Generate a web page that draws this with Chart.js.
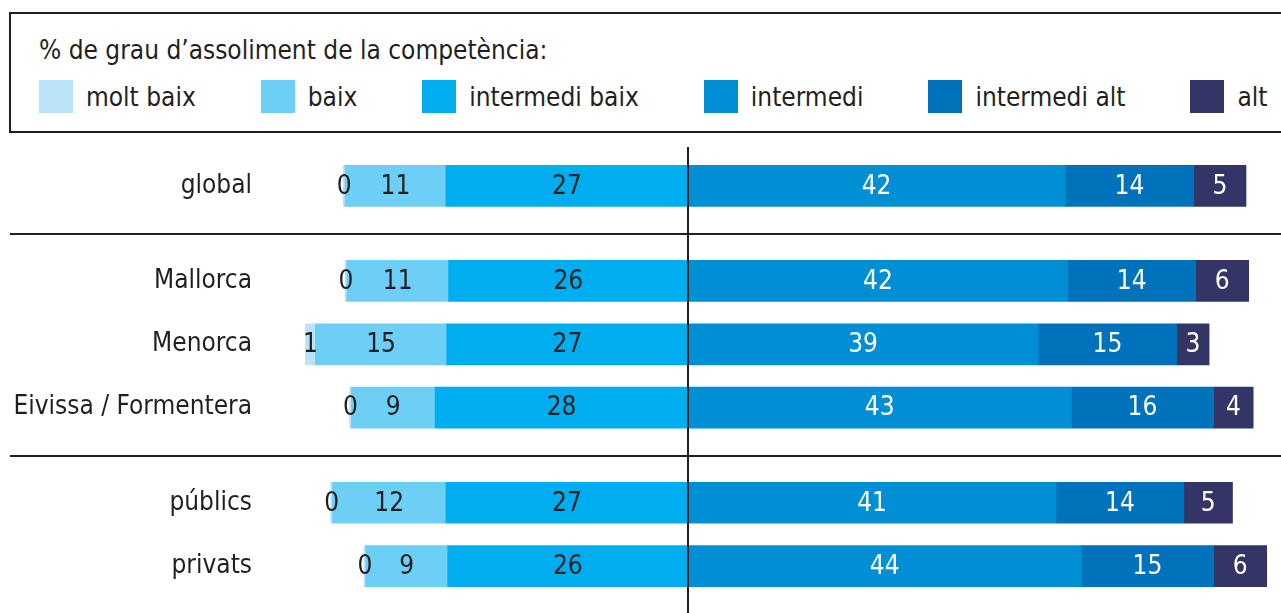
<!DOCTYPE html>
<html>
<head>
<meta charset="utf-8">
<script src="https://cdn.jsdelivr.net/npm/chart.js@4.4.1/dist/chart.umd.min.js"></script>
<style>
    html, body { margin: 0; padding: 0; background: #fff; }
    body { width: 1281px; height: 613px; position: relative; overflow: hidden; }
    #legend {
        position: absolute; left: 9px; top: 12px; width: 1300px; height: 121px;
        border: 2px solid #231f20; box-sizing: border-box;
        font-family: "Liberation Sans Narrow", "DejaVu Sans Condensed", sans-serif;
        color: #231f20;
    }
    #legend .title { position: absolute; left: 28px; top: 21px; font-size: 26px; line-height: 30px; white-space: nowrap; }
    #legend .items { position: absolute; left: 28px; top: 66px; display: flex; align-items: center; white-space: nowrap; }
    #legend .item { display: flex; align-items: center; margin-right: 65px; font-size: 26px; }
    #legend .swatch { width: 34px; height: 33px; margin-right: 13px; }
    canvas { position: absolute; left: 0; top: 0; }
</style>
</head>
<body>
<div id="legend">
    <div class="title">% de grau d’assoliment de la competència:</div>
    <div class="items" id="legendItems"></div>
</div>
<canvas id="chart" width="1281" height="613"></canvas>
<script>
// Categories (rows) and how they are grouped between separator lines
const categories = ['global', 'Mallorca', 'Menorca', 'Eivissa / Formentera', 'públics', 'privats'];
const groupSizes = [1, 3, 2];

// Series names, in legend order
const seriesNames = ['molt baix', 'baix', 'intermedi baix', 'intermedi', 'intermedi alt', 'alt'];
const seriesColors = ['#b9e4f8', '#6dcff6', '#00aeef', '#008fd5', '#0071bb', '#333566'];

// Bar lengths (%)
const moltBaix = [0.2, 0.2, 1.1, 0.2, 0.2, 0.2];
const baix = [11.2, 11.3, 14.6, 9.3, 12.6, 9.1];
const intermediBaix = [26.9, 26.6, 26.8, 28.1, 26.9, 26.7];
const intermedi = [41.9, 42.2, 38.9, 42.6, 40.9, 43.7];
const intermediAlt = [14.3, 14.2, 15.4, 15.8, 14.2, 14.7];
const alt = [5.8, 5.9, 3.6, 4.4, 5.4, 5.9];

// Numbers printed on the bars
const moltBaixLabels = [0, 0, 1, 0, 0, 0];
const baixLabels = [11, 11, 15, 9, 12, 9];
const intermediBaixLabels = [27, 26, 27, 28, 27, 26];
const intermediLabels = [42, 42, 39, 43, 41, 44];
const intermediAltLabels = [14, 14, 15, 16, 14, 15];
const altLabels = [5, 6, 3, 4, 5, 6];

const FONT = '"Liberation Sans Narrow", "DejaVu Sans Condensed", sans-serif';
const TEXT = '#231f20';

// Build legend
const legendEl = document.getElementById('legendItems');
seriesNames.forEach((name, i) => {
    const item = document.createElement('div');
    item.className = 'item';
    item.innerHTML = '<div class="swatch" style="background:' + seriesColors[i] + '"></div><span>' + name + '</span>';
    legendEl.appendChild(item);
});

// Rows sit 2 slots apart, groups 3 slots apart
const slotOf = [];
const separatorsAfter = [];
let slot = 0, idx = 0;
groupSizes.forEach((size, g) => {
    for (let k = 0; k < size; k++) {
        slotOf.push(slot);
        slot += (k < size - 1) ? 2 : 3;
        idx++;
    }
    if (g < groupSizes.length - 1) separatorsAfter.push(idx - 1);
});
const slotCount = slotOf[slotOf.length - 1] + 1;
const slotLabels = new Array(slotCount).fill('');
slotOf.forEach((s, i) => { slotLabels[s] = categories[i]; });

function toSlots(values, sign) {
    const out = new Array(slotCount).fill(null);
    values.forEach((v, i) => { out[slotOf[i]] = sign * v; });
    return out;
}

// Left side stacks out from the centre: intermedi baix, baix, molt baix
const leftSeries = [
    { i: 2, values: intermediBaix, labels: intermediBaixLabels },
    { i: 1, values: baix, labels: baixLabels },
    { i: 0, values: moltBaix, labels: moltBaixLabels },
];
const rightSeries = [
    { i: 3, values: intermedi, labels: intermediLabels },
    { i: 4, values: intermediAlt, labels: intermediAltLabels },
    { i: 5, values: alt, labels: altLabels },
];

const datasets = [];
leftSeries.forEach(s => datasets.push({
    label: seriesNames[s.i], data: toSlots(s.values, -1), backgroundColor: seriesColors[s.i],
    printed: toSlots(s.labels, 1), labelColor: TEXT,
}));
rightSeries.forEach(s => datasets.push({
    label: seriesNames[s.i], data: toSlots(s.values, 1), backgroundColor: seriesColors[s.i],
    printed: toSlots(s.labels, 1), labelColor: '#ffffff',
}));

const CHART_LEFT = 283;
const PX_PER_UNIT = 9.0;
const CENTER_X = 688;

const barLabels = {
    id: 'barLabels',
    afterDatasetsDraw(chart) {
        const ctx = chart.ctx;
        ctx.save();
        ctx.font = '26px ' + FONT;
        ctx.textAlign = 'center';
        ctx.textBaseline = 'middle';
        chart.data.datasets.forEach((ds, di) => {
            chart.getDatasetMeta(di).data.forEach((bar, j) => {
                if (ds.printed[j] === null) return;
                const p = bar.getProps(['x', 'y', 'base'], true);
                ctx.fillStyle = ds.labelColor;
                ctx.fillText(String(ds.printed[j]), (p.x + p.base) / 2, p.y + 1);
            });
        });
        ctx.restore();
    }
};

const dividers = {
    id: 'dividers',
    afterDraw(chart) {
        const ctx = chart.ctx;
        const y = chart.scales.y;
        const x0 = chart.scales.x.getPixelForValue(0);
        ctx.save();
        ctx.strokeStyle = TEXT;
        ctx.lineWidth = 2;
        separatorsAfter.forEach(r => {
            const py = Math.round((y.getPixelForValue(slotOf[r]) + y.getPixelForValue(slotOf[r + 1])) / 2) + 1;
            ctx.beginPath();
            ctx.moveTo(10, py);
            ctx.lineTo(chart.width, py);
            ctx.stroke();
        });
        ctx.beginPath();
        ctx.moveTo(x0, 147);
        ctx.lineTo(x0, chart.height);
        ctx.stroke();
        ctx.restore();
    }
};

new Chart(document.getElementById('chart'), {
    type: 'bar',
    data: { labels: slotLabels, datasets: datasets },
    options: {
        indexAxis: 'y',
        responsive: false,
        animation: false,
        devicePixelRatio: 1,
        layout: { padding: { top: 170, bottom: 31, left: 0, right: 0 } },
        datasets: { bar: { barThickness: 41, borderWidth: 0, clip: false } },
        plugins: { legend: { display: false }, tooltip: { enabled: false } },
        scales: {
            x: {
                stacked: true,
                display: false,
                min: -(CENTER_X - CHART_LEFT) / PX_PER_UNIT,
                max: (1281 - CENTER_X) / PX_PER_UNIT,
            },
            y: {
                stacked: true,
                grid: { display: false, drawTicks: false },
                border: { display: false },
                ticks: {
                    autoSkip: false,
                    padding: 31,
                    color: TEXT,
                    font: { family: FONT, size: 26 },
                },
                afterFit(scale) {
                    // fixed axis width; tick padding must not eat into the row area
                    scale.width = CHART_LEFT;
                    scale.paddingTop = 0;
                    scale.paddingBottom = 0;
                },
            },
        },
    },
    plugins: [barLabels, dividers],
});
</script>
</body>
</html>
